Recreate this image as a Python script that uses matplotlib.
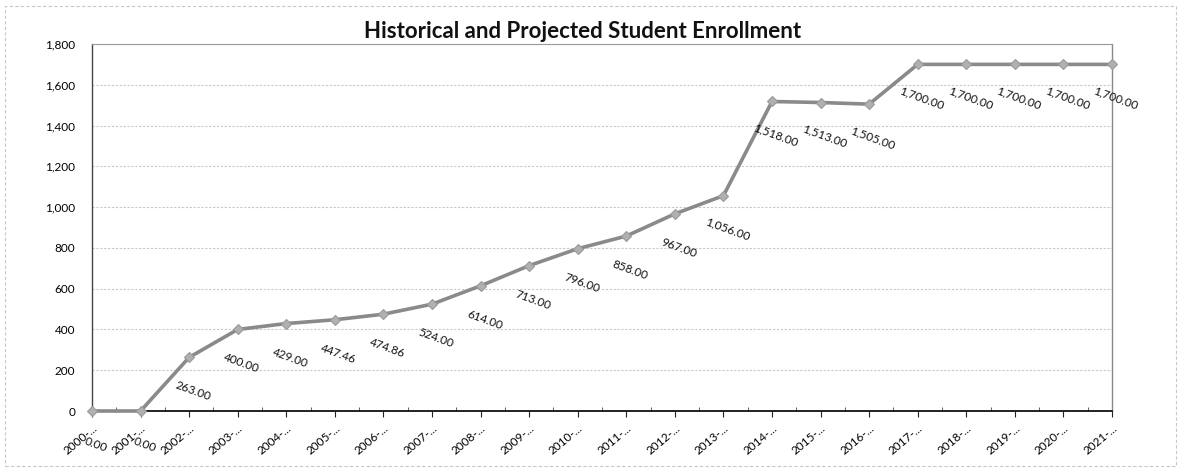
import matplotlib
matplotlib.use("Agg")
import matplotlib.pyplot as plt
from matplotlib.ticker import FuncFormatter, MultipleLocator
from matplotlib.patches import Rectangle
from matplotlib.transforms import ScaledTranslation

plt.rcParams['font.family'] = ['Lato', 'DejaVu Sans']

years = [str(y) for y in range(2000, 2022)]
tick_labels = [y + "-..." for y in years]
enrollment = [0, 0, 263, 400, 429, 447.46, 474.86, 524, 614, 713, 796, 858,
              967, 1056, 1518, 1513, 1505, 1700, 1700, 1700, 1700, 1700]
title = "Historical and Projected Student Enrollment"

fig = plt.figure(figsize=(11.81, 4.72), dpi=100)
ax = fig.add_axes([92/1181, 1-411/472, (1112-92)/1181, (411-44)/472])

x = list(range(len(enrollment)))
ax.plot(x, enrollment, color='#8a8a8a', lw=2.6, marker='D', ms=5.5,
        mfc='#b0b0b0', mec='#9a9a9a', mew=0.8, zorder=3, clip_on=False)

for xi, v in zip(x, enrollment):
    ax.annotate(f"{v:,.2f}", (xi, v), xytext=(4, -34), textcoords='offset pixels',
                ha='center', va='center', rotation=-20, fontsize=8.5,
                color='#111111', zorder=4, annotation_clip=False)

ax.set_xlim(0, len(enrollment) - 1)
ax.set_ylim(0, 1800)
ax.yaxis.set_major_locator(MultipleLocator(200))
ax.yaxis.set_major_formatter(FuncFormatter(lambda v, p: f"{int(v):,}"))
ax.set_xticks(x)
ax.set_xticklabels(tick_labels, rotation=40, ha='right', rotation_mode='anchor',
                   fontsize=8.5)
shift = ScaledTranslation(10/100, 0, fig.dpi_scale_trans)
for lbl in ax.get_xticklabels():
    lbl.set_transform(lbl.get_transform() + shift)
ax.set_xticks([i + 0.5 for i in range(len(enrollment) - 1)], minor=True)
ax.tick_params(axis='x', which='major', direction='out', length=4, color='#222222', pad=4)
ax.tick_params(axis='x', which='minor', direction='in', length=3, color='#444444')
ax.tick_params(axis='y', which='major', length=0, labelsize=8.5, pad=12)

ax.grid(axis='y', color='#c8c8c8', lw=0.8, ls=(0, (2, 1.5)))
ax.set_axisbelow(True)
ax.spines['bottom'].set_color('#111111')
ax.spines['bottom'].set_linewidth(1.3)
ax.spines['left'].set_color('#444444')
ax.spines['left'].set_linewidth(1.0)
ax.spines['top'].set_color('#9a9a9a')
ax.spines['top'].set_linewidth(0.8)
ax.spines['right'].set_color('#8a8a8a')
ax.spines['right'].set_linewidth(1.0)

fig.text(583/1181, 1-31/472, title, ha='center', va='center', fontsize=16,
         fontweight='bold', color='#111111')

fig.patches.append(Rectangle((5/1181, 6/472), 1171/1181, 460/472, transform=fig.transFigure,
                             fill=False, ec='#c8c8c8', lw=0.8, ls=(0, (3, 2))))

fig.savefig("out.png", dpi=100)
